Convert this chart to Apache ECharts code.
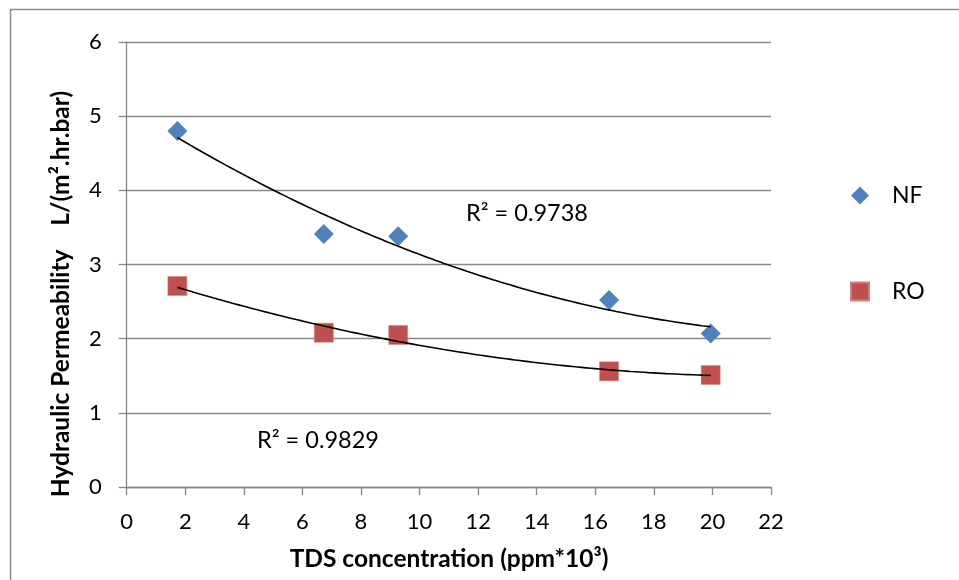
<!DOCTYPE html>
<html>
<head>
<meta charset="utf-8">
<script src="https://cdn.jsdelivr.net/npm/echarts@6/dist/echarts.min.js"></script>
<style>
  html, body { margin: 0; padding: 0; background: #fff; }
  #chart { width: 959px; height: 580px; }
</style>
</head>
<body>
<div id="chart"></div>
<script>
// TDS concentration (ppm*10^3) for each measurement
const tds = [1.73, 6.73, 9.27, 16.47, 19.94];
// Hydraulic permeability, L/(m2.hr.bar)
const nfValues = [4.80, 3.41, 3.38, 2.52, 2.07];
const roValues = [2.71, 2.08, 2.05, 1.56, 1.51];
const seriesNames = ['NF', 'RO'];
const r2Labels = ['R\u00b2 = 0.9738', 'R\u00b2 = 0.9829'];
const xTicks = { min: 0, max: 22, interval: 2 };
const yTicks = { min: 0, max: 6, interval: 1 };

// Second-order least-squares polynomial through (x, y)
function quadFit(xs, ys) {
  let s = [0, 0, 0, 0, 0], t = [0, 0, 0];
  for (let i = 0; i < xs.length; i++) {
    let p = 1;
    for (let k = 0; k < 5; k++) { s[k] += p; if (k < 3) t[k] += p * ys[i]; p *= xs[i]; }
  }
  const A = [[s[0], s[1], s[2], t[0]], [s[1], s[2], s[3], t[1]], [s[2], s[3], s[4], t[2]]];
  for (let c = 0; c < 3; c++) {
    for (let r = c + 1; r < 3; r++) {
      const f = A[r][c] / A[c][c];
      for (let k = c; k < 4; k++) A[r][k] -= f * A[c][k];
    }
  }
  const b = [0, 0, 0];
  for (let r = 2; r >= 0; r--) {
    let v = A[r][3];
    for (let k = r + 1; k < 3; k++) v -= A[r][k] * b[k];
    b[r] = v / A[r][r];
  }
  return x => b[0] + b[1] * x + b[2] * x * x;
}

function trendPoints(xs, ys) {
  const f = quadFit(xs, ys);
  const lo = Math.min(...xs), hi = Math.max(...xs);
  const out = [];
  const n = 60;
  for (let i = 0; i <= n; i++) {
    const x = lo + (hi - lo) * i / n;
    out.push([x, f(x)]);
  }
  return out;
}

const FONT = 'Lato, "Open Sans", sans-serif';
const GRID = { left: 126.7, top: 42, right: 188, bottom: 93 };
const chart = echarts.init(document.getElementById('chart'), null, { renderer: 'canvas' });

const option = {
  backgroundColor: '#fff',
  animation: false,
  textStyle: { fontFamily: FONT },
  grid: GRID,
  legend: {
    data: [
      { name: seriesNames[0], icon: 'diamond' },
      { name: seriesNames[1], icon: 'rect' }
    ],
    orient: 'vertical',
    left: 850,
    top: 184,
    padding: 0,
    itemWidth: 18,
    itemHeight: 18,
    itemGap: 73,
    selectedMode: false,
    textStyle: { fontFamily: FONT, fontSize: 23, color: '#000', padding: [0, 0, 0, 18] }
  },
  xAxis: {
    type: 'value',
    min: xTicks.min, max: xTicks.max, interval: xTicks.interval,
    axisLine: { show: true, onZero: false, lineStyle: { color: '#878787', width: 1.3 } },
    axisTick: { show: true, length: 8, lineStyle: { color: '#878787', width: 1.3 } },
    axisLabel: { fontFamily: FONT, fontSize: 22, color: '#000', margin: 24 },
    splitLine: { show: false }
  },
  yAxis: {
    type: 'value',
    min: yTicks.min, max: yTicks.max, interval: yTicks.interval,
    axisLine: { show: true, lineStyle: { color: '#878787', width: 1.3 } },
    axisTick: { show: true, length: 8, lineStyle: { color: '#878787', width: 1.3 } },
    axisLabel: { fontFamily: FONT, fontSize: 22, color: '#000', margin: 25 },
    splitLine: { show: true, lineStyle: { color: '#878787', width: 1.3 } }
  },
  series: [
    {
      name: seriesNames[0] + ' trend', type: 'line', data: trendPoints(tds, nfValues),
      showSymbol: false, symbol: 'none', smooth: true, silent: true,
      lineStyle: { color: '#000', width: 1.6 }, z: 3
    },
    {
      name: seriesNames[1] + ' trend', type: 'line', data: trendPoints(tds, roValues),
      showSymbol: false, symbol: 'none', smooth: true, silent: true,
      lineStyle: { color: '#000', width: 1.6 }, z: 3
    },
    {
      name: seriesNames[0], type: 'scatter', symbol: 'diamond', symbolSize: 20,
      data: tds.map((x, i) => [x, nfValues[i]]),
      itemStyle: { color: '#4F81BD', opacity: 1 }, z: 2
    },
    {
      name: seriesNames[1], type: 'scatter', symbol: 'rect', symbolSize: 19,
      data: tds.map((x, i) => [x, roValues[i]]),
      itemStyle: { color: '#C0504D', opacity: 1, borderColor: '#D08080', borderWidth: 0.5 }, z: 2
    }
  ],
  graphic: [
    {
      type: 'rect', silent: true, z: -1,
      shape: { x: 10.5, y: 9.5, width: 980, height: 600 },
      style: { fill: null, stroke: '#8a8a8a', lineWidth: 1.5 }
    },
    {
      type: 'text', x: 449, y: 559,
      style: {
        text: 'TDS concentration (ppm*10\u00b3)', fontFamily: FONT, fontSize: 24.5,
        fontWeight: 'bold', fill: '#000', textAlign: 'center', textVerticalAlign: 'middle'
      }
    },
    {
      type: 'text', x: 61, y: 294, rotation: Math.PI / 2,
      style: {
        text: 'Hydraulic Permeability    L/(m\u00b2.hr.bar)', fontFamily: FONT, fontSize: 24.5,
        fontWeight: 'bold', fill: '#000', textAlign: 'center', textVerticalAlign: 'middle'
      }
    },
    {
      type: 'text', x: 527, y: 213,
      style: {
        text: r2Labels[0], fontFamily: FONT, fontSize: 23.5, fill: '#000',
        textAlign: 'center', textVerticalAlign: 'middle'
      }
    },
    {
      type: 'text', x: 318, y: 440,
      style: {
        text: r2Labels[1], fontFamily: FONT, fontSize: 23.5, fill: '#000',
        textAlign: 'center', textVerticalAlign: 'middle'
      }
    }
  ]
};

chart.setOption(option);
</script>
</body>
</html>
